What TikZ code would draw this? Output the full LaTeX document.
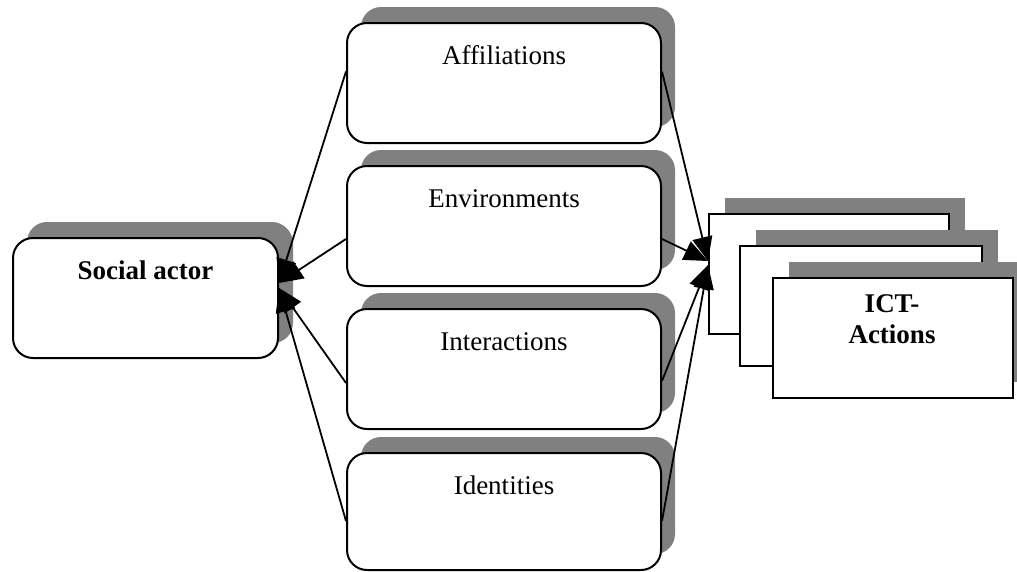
\documentclass[tikz,border=0pt]{standalone}
\usepackage{fontspec}
\setmainfont{Liberation Serif}
\usetikzlibrary{arrows.meta,shadows}
\definecolor{shadowgray}{RGB}{128,128,128}
\begin{document}
\begin{tikzpicture}[x=1pt,y=-1pt,
  font=\fontsize{27}{31}\selectfont,
  boxline/.style={draw, line width=2pt, fill=white, inner xsep=0pt, inner ysep=0pt},
  rbox/.style={boxline, rounded corners=20pt, text height=41pt, text depth=79pt,
    drop shadow={shadow xshift=14pt, shadow yshift=16pt, fill=shadowgray, opacity=1}},
  midbox/.style={rbox, minimum width=314pt, anchor=north},
  ictbox/.style={boxline, minimum height=120pt, anchor=north west,
    drop shadow={shadow xshift=16pt, shadow yshift=16pt, fill=shadowgray, opacity=1}},
  conn/.style={line width=1.8pt, -{Triangle[length=24pt,width=20pt]}}]
\useasboundingbox (0,0) rectangle (1017,571);
\clip (0,0) rectangle (1017,571);

% actor box on the left
\node[rbox, minimum width=265pt, anchor=north west,
  drop shadow={shadow xshift=15pt, shadow yshift=15pt, fill=shadowgray, opacity=1}]
  (sa) at (12,237) {\bfseries Social actor};

% four aspect boxes in the middle column
\node[midbox] (aff) at (504,22)  {Affiliations};
\node[midbox] (env) at (504,165) {Environments};
\node[midbox] (int) at (504,308) {Interactions};
\node[midbox, text depth=76pt] (idn) at (504,452) {Identities};

% stacked action cards on the right
\node[ictbox, minimum width=240pt] (ict1) at (708,213) {};
\node[ictbox, minimum width=242pt] (ict2) at (739,245) {};
\node[ictbox, minimum width=240pt] (ict3) at (772,277) {};
\node[anchor=base, font=\fontsize{27}{31}\selectfont\bfseries] (ictA) at (892,312) {ICT-};
\node[anchor=base, font=\fontsize{27}{31}\selectfont\bfseries] (ictB) at (892,343) {Actions};

% arrow tips
\coordinate (saUp) at ([yshift=15pt]sa.east);
\coordinate (saDn) at ([yshift=10pt]sa.east);
\coordinate (ictUp) at ([yshift=13pt]ict1.west);
\coordinate (ictDn) at ([yshift=9pt]ict1.west);

% links toward the actor
\draw[conn] ([yshift=11.5pt]aff.west) -- (saUp);
\draw[conn] ([yshift=-13pt]env.west) -- (saUp);
\draw[conn] ([yshift=-14pt]int.west) -- (saDn);
\draw[conn] ([yshift=-9.5pt]idn.west) -- (saDn);

% links toward the actions
\draw[conn] ([yshift=11.5pt]aff.east) -- (ictUp);
\draw[conn] ([yshift=-13pt]env.east) -- (ictUp);
\draw[conn] ([yshift=-12pt]int.east) -- (ictDn);
\draw[conn] ([yshift=-9.5pt]idn.east) -- (ictDn);
\end{tikzpicture}
\end{document}
